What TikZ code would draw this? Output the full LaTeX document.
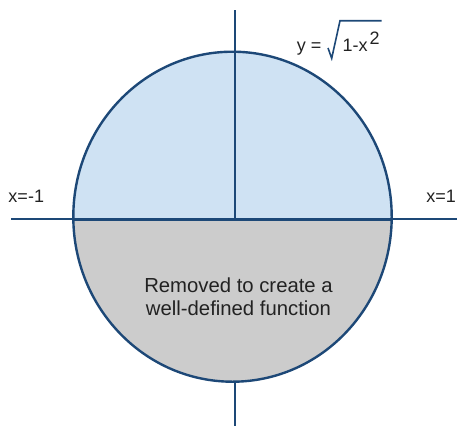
\documentclass[tikz,border=0pt]{standalone}
\usepackage{fontspec}
\setmainfont{Liberation Sans}
\usetikzlibrary{shapes.geometric}
\definecolor{navy}{HTML}{1D4877}
\definecolor{lightblue}{HTML}{CFE2F3}
\definecolor{lightgray}{HTML}{CCCCCC}
\definecolor{txt}{HTML}{222222}
\begin{document}
\begin{tikzpicture}[x=1pt,y=-1pt,
  axis/.style={draw=navy,line width=1.8pt},
  rim/.style={draw=navy,line width=2.4pt},
  lbl/.style={text=txt,inner sep=0pt,font=\fontsize{18}{21}\selectfont},
  big/.style={text=txt,inner sep=0pt,align=center,font=\fontsize{20.3}{23}\selectfont}]
\useasboundingbox (0,0) rectangle (457,426);
\coordinate (ctr) at (232.5,216.7);
\coordinate (hl) at (11,219.3);
\coordinate (hr) at (457,219.3);
\coordinate (vt) at (234.7,10);
\coordinate (vb) at (234.7,426);
% upper (blue) half
\fill[lightblue] (ctr) ellipse [x radius=159.2, y radius=165];
% vertical axis
\draw[axis] (vt) -- (vb);
% lower (grey) half
\begin{scope}
  \clip (0,219.3) rectangle (457,426);
  \fill[lightgray] (ctr) ellipse [x radius=159.2, y radius=165];
\end{scope}
% outline
\node[ellipse,rim,minimum width=318.4pt,minimum height=330pt,inner sep=0pt] (circ) at (ctr) {};
% horizontal axis
\draw[axis] (hl) -- (hr);
\draw[rim] (circ.west |- hl) -- (circ.east |- hl);
% labels
\node[lbl,anchor=base west] (xl) at (8.3,202.7) {x=-1};
\node[lbl,anchor=base east] (xr) at (456,202.7) {x=1};
\node[big] (rem) at (238.5,297) {Removed to create a\\well-defined function};
% equation
\node[lbl,anchor=base west] (eqy) at (296.7,51.7) {y =};
\node[lbl,anchor=base west] (eqr) at (342.5,51.7) {1-x};
\node[lbl,anchor=base west] (eqs) at (369.5,44.5) {2};
\coordinate (r1) at (328,48);
\coordinate (r2) at (331.7,58.3);
\coordinate (r3) at (340,20.7);
\coordinate (r4) at (381.7,20.7);
\draw[navy,line width=1.6pt,line join=miter] (r1) -- (r2) -- (r3) -- (r4);
\end{tikzpicture}
\end{document}
